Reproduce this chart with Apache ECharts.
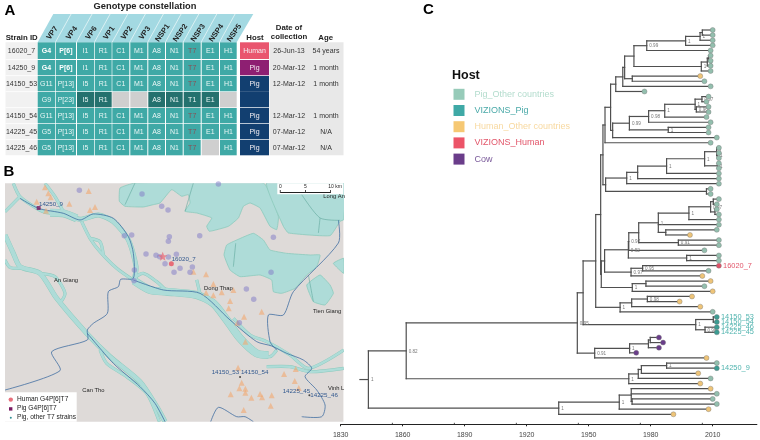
<!DOCTYPE html>
<html><head><meta charset="utf-8">
<style>html,body{margin:0;padding:0;background:#fff}#c{width:760px;height:440px}</style>
<script src="https://cdn.jsdelivr.net/npm/echarts@6/dist/echarts.min.js"></script>
</head><body><div id="c"></div>
<script>
// ---------- Panel A data ----------
const strainIds = ['16020_7','14250_9','14150_53','','14150_54','14225_45','14225_46'];
const segmentNames = ['VP7','VP4','VP6','VP1','VP2','VP3','NSP1','NSP2','NSP3','NSP4','NSP5'];
const genotypes = [
  ['G4','P[6]','I1','R1','C1','M1','A8','N1','T7','E1','H1'],
  ['G4','P[6]','I1','R1','C1','M1','A8','N1','T7','E1','H1'],
  ['G11','P[13]','I5','R1','C1','M1','A8','N1','T7','E1','H1'],
  ['G9','P[23]','I5','R1','','','A8','N1','T1','E1',''],
  ['G11','P[13]','I5','R1','C1','M1','A8','N1','T7','E1','H1'],
  ['G5','P[13]','I5','R1','C1','M1','A8','N1','T7','E1','H1'],
  ['G5','P[13]','I5','R1','C1','M1','A8','N1','T7','','H1']
];
const hostsA = ['Human','Pig','Pig','','Pig','Pig','Pig'];
const dates = ['26-Jun-13','20-Mar-12','12-Mar-12','','12-Mar-12','07-Mar-12','07-Mar-12'];
const ages = ['54 years','1 month','1 month','','1 month','N/A','N/A'];

// ---------- Panel B data (map units) ----------
const lakePolys = [
 [[360,84],[358,124],[375,139],[430,141],[460,134],[480,129],[515,89],[545,109],[565,104],[570,129],[555,154],[590,159],[635,174],[620,199],[628,214],[685,199],[715,174],[730,139],[750,129],[780,144],[810,199],[830,209],[835,169],[790,69],[405,69]],
 [[800,69],[850,199],[865,219],[990,227],[1020,184],[1031,179],[1031,69]],
 [[672,285],[680,255],[710,240],[760,220],[790,240],[810,270],[860,280],[930,285],[960,285],[950,320],[920,345],[885,385],[845,400],[820,395],[815,360],[780,345],[720,350],[690,330]],
 [[920,375],[960,345],[990,375],[1000,400],[975,435],[940,425]],
 [[1000,310],[1031,295],[1031,340]]
];
const riversMajor = [
 [[402,362],[450,390],[500,395],[590,405],[640,430],[680,480],[720,535],[770,580],[805,585]],
 [[230,175],[190,160],[150,158]]
];
const riversMedium = [
 [[190,160],[240,178],[295,165],[340,185],[385,240],[408,320],[402,362]],
 [[15,225],[40,280],[60,320],[120,340],[170,415],[260,520],[330,590],[420,665],[470,740],[495,785]]
];
const riversMinor = [
 [[40,70],[60,110],[110,145],[140,158],[190,160]],[[135,70],[165,110],[190,155]],[[15,155],[50,120],[60,110]],
 [[245,185],[270,235],[300,275],[350,325],[402,362]],
 [[400,355],[430,340],[470,365],[495,388]],[[590,360],[600,402]],
 [[700,475],[750,525],[800,545],[870,585],[925,625],[1031,570]],
 [[800,620],[870,620],[930,635],[1031,625]],[[770,580],[810,590],[830,570]],
 [[15,300],[30,322],[65,325]],[[120,340],[165,350],[195,400],[180,430]],
 [[300,570],[320,610],[380,650],[440,700],[478,785]],[[270,235],[300,245],[310,285]]
];
const boundaries = [
 [[60,115],[115,145],[190,160],[240,180],[280,162],[340,175],[385,230],[400,280],[400,355],[362,358],[355,380],[325,395],[322,460],[280,490],[262,510],[262,540],[155,575],[180,632],[15,690]],
 [[262,520],[340,610],[420,680],[465,730],[495,785]],
 [[400,360],[490,390],[600,400],[690,480],[770,545],[815,558],[860,580],[910,600],[935,625],[915,650],[950,690],[975,735],[965,770],[905,770]],
 [[632,785],[655,742],[710,770],[735,770],[760,785]],
 [[1015,181],[1015,249],[880,395],[850,465],[805,465],[810,545],[830,570]]
];
const thinLines = [
 [[905,104],[960,174],[1020,181]],[[960,174],[955,219]],[[405,69],[375,134]],[[580,69],[555,154]],[[707,250],[700,320]],[[925,345],[940,425]]
];
const pigX = [238,426,485,504,655,373,395,508,505,599,820,438,468,479,505,529,495,540,522,570,577,739,761,813,403,402,718];
const pigY = [91,102,139,150,72,227,225,230,244,227,232,282,286,290,291,283,311,325,337,337,321,387,418,337,330,362,488];
const humanX = [135,145,152,266,110,208,285,270,138,618,580,640,700,665,618,640,690,686,732,785,712,736,714,725,718,736,736,692,754,780,786,815,812,731,852,887,884,896];
const humanY = [82,100,112,93,125,131,141,150,152,343,335,372,390,397,398,406,423,445,470,455,488,545,623,668,685,686,698,703,713,702,712,706,737,750,642,627,663,684];
const placeNames = ['An Giang','Dong Thap','Tien Giang','Can Tho','Vinh L','Long An'];
const placeX = [198,655,981,280,1008,1002];
const placeY = [361,386,455,690,684,110];
const strainNames = ['14250_9','16020_7','14150_53 14150_54','14225_45','14225_46'];
const strainX = [153,551,720,889,972];
const strainY = [132,299,638,694,705];

// ---------- Panel C data ----------
const tipYears = [2010,2010,2010,2010,2009,2009,2009,2009,2009,2004,2006,2009,1977,2008,2007,2008,2008,2007,2009,2008,2008,2012,2009,2013,2013,2013,2013,2013,2013,2013,2013,2009,2009,2013,2012,2012,2013,2013,2013,2012,1999,2013,2013,2006,2013,2013,2013,2008,2005,2009,2006,2010,2000,1994,2004,2010,2012,2012,2012,2012,1984,1986,1984,1973,2007,2012,2012,2003,2009,2004,2009,2012,2010,2012,2008,1991];
const humanOtherTips = [9,40,48,49,51,52,53,54,64,67,69,70,74,75];
const vizionsHumanTips = [46];
const vizionsPigTips = [56,57,58,59,66];
const cowTips = [60,61,62,63];
const tipLabelRows = [46,56,57,58,59,66];
const tipLabelTexts = ['16020_7','14150_53','14150_54','14225_46','14225_45','14250_9'];
const rootStemYear = 1839.3;
// node = [year, support, ...children]; a plain number is a tip row
const clusterA = [1963.1,'',[1966.5,'',[1967.4,'',[1971.9,'',[1978.1,'0.99',[1996.9,'1',[2003.9,'1',[2005,'',0,1],2],3],4],[2004.5,'1',[2007.4,'1',[2008,'',5,6],7],8]],[1971.1,'',9,10]],11],12];
const clusterB = [1961.6,'',[1969.7,'0.99',[1979,'0.98',[1986.8,'1',[2001.5,'1',[2004.8,'0.97',13,14],[2002.1,'0.96',15,16]],17],18],[1988.5,'1',19,20]],21];
const clusterC = [1968.4,'1',[1973.7,'',[1987.7,'1',[2006.1,'1',[2011.9,'1',23,[2012.3,'1',24,25]],[2012.3,'1',26,27]],28],29],30];
const clusterD = [1969.2,'0.92',[1969.4,'0.97',[1974.2,'',[1983.7,'1',[1998.5,'1',[2009,'0.97',[2010.3,'',33,34],[2011.1,'',35,36]],37],38,[1987.3,'',39,40]],[1993.4,'0.91',41,42]],43],[1997.4,'1',44,45]];
const clusterE = [1965.2,'1',[1970.8,'',[1978.4,'0.98',52,53],54],55];
const treeUpper = [1944.5,'0.95',[1947.3,'',[1953.4,'',[1955.8,'',[1956.9,'',[1957.9,'',[1960.6,'',clusterA,clusterB],22],[1958.2,'',clusterC,[2007,'',31,32]]],[1956.1,'',[1957.7,'',clusterD,[1970.5,'0.97',[1976.1,'0.95',46,47],48]],[1971.1,'1',[1977.7,'',49,50],51]]],clusterE],[2001.8,'1',[2010.3,'1',56,57],[2006.3,'0.96',58,59]]],[1952.9,'0.91',[1969.8,'1',[1978.9,'',[1979.8,'',60,61],62],63],64]];
const treeMiddle = [1969.4,'1',[1974,'',[1975.5,'',[1987.7,'1',65,66],67],68],69];
const treeLower = [1935.5,'1',[1964.8,'1',[1970.6,'',70,71,[1971,'',72,73]],74],75];
const treeRoot = [1843.4,'1',[1861.7,'0.82',treeUpper,treeMiddle],treeLower];
const majorYears = [1830,1860,1890,1920,1950,1980,2010];
const minorYears = [1855,1885,1915,1945,1975,2005];

// ---------- layout and styling ----------
const FONT = '"Liberation Sans", Arial, sans-serif';
const colEdges = [[37.7,55],[55.7,76],[77,94],[94.7,111.7],[112.3,129.3],[130.3,147.3],[148.3,165],[166,182.7],[183.7,200.7],[201.7,219],[220,236.7]];
const rowEdges = [[42.3,59],[60,75.3],[76,91.3],[92,107.3],[108,123.3],[124,139.3],[140,155.3]];
const TEAL='#3fa9a6', DARK='#24716e', GREY='#cfcfcf';

function T(text,x,y,size,color,weight,align,rot){
  return {type:'text',x:x,y:y,rotation:rot||0,style:{text:text,fill:color,font:(weight||'normal')+' '+size+'px '+FONT,textAlign:align||'center',textVerticalAlign:'middle'}};
}
function renderTable(params,api){
  const c=[];
  c.push({type:'polygon',shape:{points:[[37.7,42.3],[53.3,14],[253.3,14],[236.7,42.3]]},style:{fill:'#a3d9e2'}});
  const slants=colEdges.map(e=>e[1]+0.4).slice(0,-1);
  slants.forEach(x=>c.push({type:'line',shape:{x1:x,y1:42.3,x2:x+15.7,y2:14},style:{stroke:'#e8f6f8',lineWidth:0.8}}));
  segmentNames.forEach((s,i)=>{const cx=(colEdges[i][0]+colEdges[i][1])/2+6;c.push(T(s,cx,33,7.5,'#222','bold','center',0.96));});
  c.push({type:'rect',shape:{x:5.5,y:42.3,width:32,height:113},style:{fill:'#f1f1f1'}});
  c.push({type:'rect',shape:{x:269.5,y:42.3,width:74,height:113},style:{fill:'#e8e8e8'}});
  const cellTexts=[];
  rowEdges.forEach((r,ri)=>{
    c.push(T(strainIds[ri],21.5,(r[0]+r[1])/2,7,'#333'));
    if(ri>0) c.push({type:'line',shape:{x1:5.5,y1:r[0]-0.4,x2:37.7,y2:r[0]-0.4},style:{stroke:'#fff',lineWidth:0.8}});
    genotypes[ri].forEach((g,ci)=>{
      const e=colEdges[ci];
      const dark=ri===3&&ci>=2;
      c.push({type:'rect',shape:{x:e[0],y:r[0],width:e[1]-e[0],height:r[1]-r[0]},style:{fill:g===''?GREY:(dark?DARK:TEAL)}});
      if(g){
        const bold=ri<2&&ci<2;
        const col=g==='T7'?'#8a4f55':'#e9f6f5';
        cellTexts.push(T(g,(e[0]+e[1])/2,(r[0]+r[1])/2,7,bold?'#fff':col,bold?'bold':'normal'));
      }
    });
    if(hostsA[ri]||ri===3){
      const fill=ri===0?'#e9556e':ri===1?'#8e1f72':'#123f70';
      const top=ri===3?r[0]-0.8:r[0];
      c.push({type:'rect',shape:{x:240,y:top,width:29,height:r[1]-top},style:{fill:fill}});
    }
    if(hostsA[ri]) cellTexts.push(T(hostsA[ri],254.5,(r[0]+r[1])/2,7,'#f4eef2'));
    cellTexts.push(T(dates[ri],289,(r[0]+r[1])/2,7,'#333'));
    cellTexts.push(T(ages[ri],326,(r[0]+r[1])/2,7,'#333'));
  });
  cellTexts.forEach(t=>c.push(t));
  c.push(T('Strain ID',21.7,37.5,7.8,'#222','bold'));
  c.push(T('Genotype constellation',145,6.5,9.3,'#222','bold'));
  c.push(T('Host',255,37.5,7.8,'#222','bold'));
  c.push(T('Date of',289,28,7.8,'#222','bold'));
  c.push(T('collection',289,36.7,7.8,'#222','bold'));
  c.push(T('Age',325.7,37.5,7.8,'#222','bold'));
  return {type:'group',children:c};
}

function polyItem(points,api,kind,style){
  return {type:kind,shape:{points:points.map(p=>api.coord(p)),smooth:kind==='polyline'?0.25:0.12},style:style};
}
function lineSeries(name,lines,style,z){
  return {type:'custom',name:name,xAxisIndex:0,yAxisIndex:0,clip:true,z:z,silent:true,
    data:lines.map((l,i)=>[l[0][0],l[0][1],i]),encode:{x:0,y:1},
    renderItem:(p,api)=>polyItem(lines[p.dataIndex],api,'polyline',Object.assign({fill:null,lineJoin:'round'},style))};
}

// tree geometry computed from the topology
const treeSegments=[], supportLabels=[];
function walk(node,parentYear){
  if(typeof node==='number'){ treeSegments.push([parentYear,node,tipYears[node],node]); return node; }
  const ys=node.slice(2).map(ch=>walk(ch,node[0]));
  const y=(ys[0]+ys[ys.length-1])/2;
  treeSegments.push([node[0],ys[0],node[0],ys[ys.length-1]]);
  treeSegments.push([parentYear,y,node[0],y]);
  if(node[1]) supportLabels.push([node[0],y,node[1]]);
  return y;
}
walk(treeRoot,rootStemYear);

const taken = new Set([].concat(humanOtherTips,vizionsHumanTips,vizionsPigTips,cowTips));
const pigOtherTips = tipYears.map((_,i)=>i).filter(i=>!taken.has(i));
function tipSeries(name,rows,color,labelColor){
  return {type:'scatter',name:name,xAxisIndex:1,yAxisIndex:1,symbolSize:5,z:6,
    itemStyle:{color:color,borderColor:'#777',borderWidth:0.4,opacity:1},
    data:rows.map(r=>{
      const k=tipLabelRows.indexOf(r);
      const d={value:[tipYears[r],r]};
      if(k>=0) d.label={show:true,position:'right',distance:1.5,formatter:tipLabelTexts[k],color:labelColor,fontSize:7.4,fontFamily:FONT};
      return d;
    })};
}
const legendItems=[['Pig_Other countries','#97cbb9','#b3dccd'],['VIZIONS_Pig','#3fa9a6','#4aa9a8'],['Human_Other countries','#f6c873','#f8d9a0'],['VIZIONS_Human','#ec5468','#e2566a'],['Cow','#6a3d8a','#7a5a9a']];
const WATER='#aedcd8', EDGE='#8ccabd';

const option={
  animation:false,
  textStyle:{fontFamily:FONT},
  grid:[
    {left:5,top:183.3,width:338.4,height:238.4,show:false},
    {left:340.7,top:30,width:416.2,height:394.3,show:false}
  ],
  xAxis:[
    {type:'value',gridIndex:0,min:15,max:1030,show:false},
    {type:'value',gridIndex:1,min:1830,max:2031.4,
     splitLine:{show:false},
     axisLine:{show:true,onZero:false,lineStyle:{color:'#222',width:1}},
     axisTick:{show:true,length:2,customValues:majorYears,lineStyle:{color:'#222'}},
     axisLabel:{show:true,customValues:majorYears,color:'#444',fontSize:7,margin:7,fontFamily:FONT,formatter:v=>String(v),hideOverlap:false}}
  ],
  yAxis:[
    {type:'value',gridIndex:0,min:70,max:785,inverse:true,show:false},
    {type:'value',gridIndex:1,min:0,max:76.95,inverse:true,show:false}
  ],
  legend:{show:true,left:453.5,top:88.8,padding:0,orient:'vertical',itemWidth:11,itemHeight:11,itemGap:5.2,icon:'rect',
    textStyle:{fontSize:9,fontFamily:FONT,padding:[0,0,0,5]},
    data:legendItems.map(l=>({name:l[0],itemStyle:{color:l[1],borderWidth:0},textStyle:{color:l[2]}})),
    selectedMode:false},
  graphic:[
    {type:'text',left:4.5,top:3,style:{text:'A',font:'bold 15px '+FONT,fill:'#000'}},
    {type:'text',left:3.5,top:164,style:{text:'B',font:'bold 15px '+FONT,fill:'#000'}},
    {type:'text',left:423,top:2,style:{text:'C',font:'bold 15px '+FONT,fill:'#000'}},
    {type:'text',left:452,top:69,style:{text:'Host',font:'bold 12.5px '+FONT,fill:'#111'}}
  ],
  series:[
    {type:'custom',coordinateSystem:'none',silent:true,data:[[0]],renderItem:renderTable,z:2},
    // map background
    {type:'custom',name:'land',xAxisIndex:0,yAxisIndex:0,silent:true,z:1,data:[[15,70]],encode:{x:0,y:1},
     renderItem:(p,api)=>{const a=api.coord([15,70]),b=api.coord([1030,785]);return {type:'rect',shape:{x:a[0],y:a[1],width:b[0]-a[0],height:b[1]-a[1]},style:{fill:'#dedad8'}};}},
    {type:'custom',name:'lakes',xAxisIndex:0,yAxisIndex:0,clip:true,silent:true,z:1,
     data:lakePolys.map((l,i)=>[l[0][0],l[0][1],i]),encode:{x:0,y:1},
     renderItem:(p,api)=>polyItem(lakePolys[p.dataIndex],api,'polygon',{fill:WATER,stroke:EDGE,lineWidth:0.8})},
    lineSeries('riverMinorEdge',riversMinor,{stroke:EDGE,lineWidth:3.2},1),
    lineSeries('riverMediumEdge',riversMedium,{stroke:EDGE,lineWidth:5},1),
    lineSeries('riverMajorEdge',riversMajor,{stroke:EDGE,lineWidth:8},1),
    lineSeries('riverMinor',riversMinor,{stroke:WATER,lineWidth:2.4},1),
    lineSeries('riverMedium',riversMedium,{stroke:WATER,lineWidth:4.2},1),
    lineSeries('riverMajor',riversMajor,{stroke:WATER,lineWidth:7.2},1),
    lineSeries('thin',thinLines,{stroke:'#5fa79c',lineWidth:0.6},2),
    lineSeries('boundary',boundaries,{stroke:'#38689f',lineWidth:0.75},2),
    {type:'scatter',name:'humanCases',xAxisIndex:0,yAxisIndex:0,symbol:'triangle',symbolSize:6,z:3,silent:true,
     itemStyle:{color:'rgba(242,168,112,0.75)'},data:humanX.map((x,i)=>[x,humanY[i]])},
    {type:'scatter',name:'pigCases',xAxisIndex:0,yAxisIndex:0,symbol:'circle',symbolSize:5.5,z:3,silent:true,
     itemStyle:{color:'rgba(130,125,200,0.65)'},data:pigX.map((x,i)=>[x,pigY[i]])},
    {type:'scatter',name:'star',xAxisIndex:0,yAxisIndex:0,symbol:'path://M0,-10L2.9,-3.1L9.5,-3.1L4.2,1.2L5.9,8.1L0,4.2L-5.9,8.1L-4.2,1.2L-9.5,-3.1L-2.9,-3.1Z',symbolSize:9,z:4,silent:true,
     itemStyle:{color:'rgba(236,90,105,0.8)'},data:[[488,289]]},
    {type:'scatter',name:'humanStrain',xAxisIndex:0,yAxisIndex:0,symbolSize:5,z:4,silent:true,itemStyle:{color:'#e9505f'},data:[[514,311]]},
    {type:'scatter',name:'pigStrain',xAxisIndex:0,yAxisIndex:0,symbol:'rect',symbolSize:4,z:4,silent:true,itemStyle:{color:'#7a1a62'},data:[[116,144]]},
    {type:'scatter',name:'otherStrains',xAxisIndex:0,yAxisIndex:0,symbolSize:2,z:4,silent:true,itemStyle:{color:'#222'},data:[[720,651],[928,706]]},
    {type:'custom',name:'places',xAxisIndex:0,yAxisIndex:0,silent:true,z:5,
     data:placeNames.map((_,i)=>[placeX[i],placeY[i]]),encode:{x:0,y:1},
     renderItem:(p,api)=>{const a=api.coord([placeX[p.dataIndex],placeY[p.dataIndex]]);return T(placeNames[p.dataIndex],a[0],a[1],5.8,'#222');}},
    {type:'custom',name:'strainTags',xAxisIndex:0,yAxisIndex:0,silent:true,z:5,
     data:strainNames.map((_,i)=>[strainX[i],strainY[i]]),encode:{x:0,y:1},
     renderItem:(p,api)=>{const a=api.coord([strainX[p.dataIndex],strainY[p.dataIndex]]);return T(strainNames[p.dataIndex],a[0],a[1],6.2,'#33598f');}},
    // scale bar and map legend
    {type:'custom',name:'mapFurniture',coordinateSystem:'none',silent:true,z:6,data:[[0]],
     renderItem:()=>({type:'group',children:[
       {type:'rect',shape:{x:277.3,y:183.3,width:66,height:11},style:{fill:'#fff'}},
       {type:'line',shape:{x1:280.3,y1:192.5,x2:330.5,y2:192.5},style:{stroke:'#222',lineWidth:1}},
       {type:'line',shape:{x1:280.3,y1:190,x2:280.3,y2:193},style:{stroke:'#222',lineWidth:0.8}},
       {type:'line',shape:{x1:305.5,y1:190,x2:305.5,y2:193},style:{stroke:'#222',lineWidth:0.8}},
       {type:'line',shape:{x1:330.5,y1:190,x2:330.5,y2:193},style:{stroke:'#222',lineWidth:0.8}},
       T('0',280.3,186.5,5,'#222'),T('5',305.5,186.5,5,'#222'),T('10 km',335,186.5,5,'#222'),
       {type:'rect',shape:{x:5,y:392.3,width:71.7,height:29.4},style:{fill:'#fff'}},
       {type:'circle',shape:{cx:10.8,cy:399.6,r:2.2},style:{fill:'#e8707c'}},
       {type:'rect',shape:{x:9,y:407.2,width:3.4,height:3.4},style:{fill:'#7a1a62'}},
       {type:'circle',shape:{cx:10.8,cy:417.7,r:1},style:{fill:'#2f8f95'}},
       T('Human G4P[6]T7',17,399.3,6.6,'#222','normal','left'),
       T('Pig G4P[6]T7',17,408.6,6.6,'#222','normal','left'),
       T('Pig, other T7 strains',17,417.5,6.6,'#222','normal','left')
     ]})},
    // phylogeny
    {type:'custom',name:'tree',xAxisIndex:1,yAxisIndex:1,silent:true,z:4,
     data:treeSegments,encode:{x:[0,2],y:[1,3]},
     renderItem:(p,api)=>{const a=api.coord([api.value(0),api.value(1)]),b=api.coord([api.value(2),api.value(3)]);
       return {type:'line',shape:{x1:a[0],y1:a[1],x2:b[0],y2:b[1]},style:{stroke:'#4f4f4f',lineWidth:1.2,lineCap:'square'}};}},
    {type:'custom',name:'support',xAxisIndex:1,yAxisIndex:1,silent:true,z:5,
     data:supportLabels,encode:{x:0,y:1},
     renderItem:(p,api)=>{const a=api.coord([api.value(0),api.value(1)]);const s=supportLabels[p.dataIndex][2];
       return {type:'text',x:a[0]+2.5,y:a[1]+0.5,style:{text:s,fill:'#777',font:'4.6px '+FONT,textAlign:'left',textVerticalAlign:'middle'}};}},
    {type:'custom',name:'minorTicks',xAxisIndex:1,yAxisIndex:1,silent:true,z:5,
     data:minorYears.map(y=>[y,76.95]),encode:{x:0,y:1},
     renderItem:(p,api)=>{const a=api.coord([api.value(0),api.value(1)]);return {type:'line',shape:{x1:a[0],y1:a[1],x2:a[0],y2:a[1]-1.5},style:{stroke:'#222',lineWidth:0.8}};}},
    tipSeries('Pig_Other countries',pigOtherTips,'#93bfae','#4aa9a8'),
    tipSeries('VIZIONS_Pig',vizionsPigTips,'#3b9c92','#4fb3ae'),
    tipSeries('Human_Other countries',humanOtherTips,'#eec478','#333'),
    tipSeries('VIZIONS_Human',vizionsHumanTips,'#e05268','#e2566a'),
    tipSeries('Cow',cowTips,'#6a3d8a','#333')
  ]
};
echarts.init(document.getElementById('c'),null,{renderer:'canvas'}).setOption(option);
</script></body></html>
